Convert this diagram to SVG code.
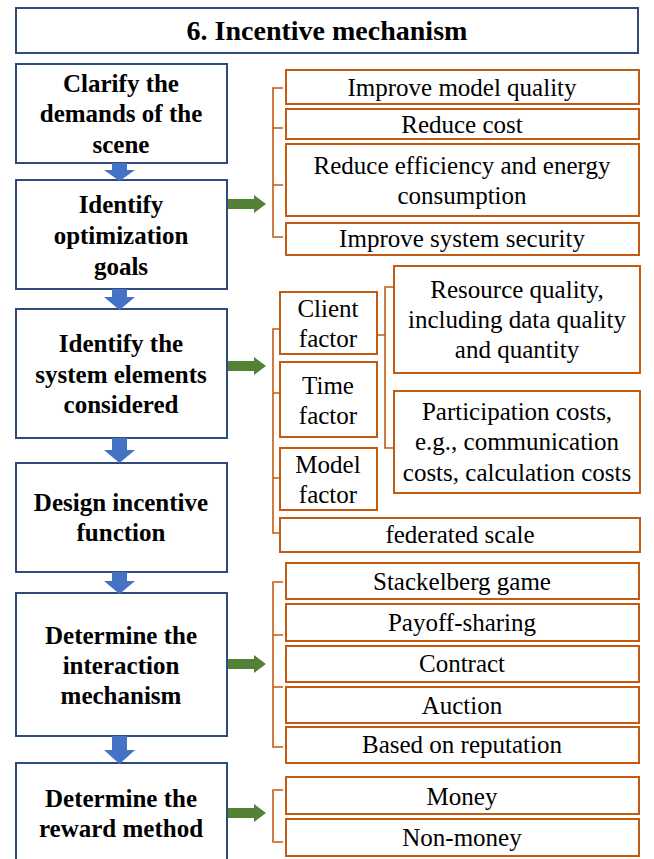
<svg xmlns="http://www.w3.org/2000/svg" width="654" height="859" viewBox="0 0 654 859">
<rect x="0" y="0" width="654" height="859" fill="#ffffff"/>
<g id="title">
<rect x="16" y="8" width="622" height="45" fill="#fff" stroke="#2F4B7C" stroke-width="2"/>
<text x="327" y="40" style="font-family:'Liberation Serif',serif !important;font-size:28px;font-weight:bold" text-anchor="middle" fill="#000">6. Incentive mechanism</text>
</g>
<g id="steps" fill="#ffffff" stroke="#2F4B7C" stroke-width="2">
<g id="step1">
<rect x="16" y="64" width="211" height="99"/>
<text x="121" y="92" style="font-family:'Liberation Serif',serif !important;font-size:25px;font-weight:bold" text-anchor="middle" fill="#000" stroke="none">Clarify the</text>
<text x="121" y="122" style="font-family:'Liberation Serif',serif !important;font-size:25px;font-weight:bold" text-anchor="middle" fill="#000" stroke="none">demands of the</text>
<text x="121" y="153" style="font-family:'Liberation Serif',serif !important;font-size:25px;font-weight:bold" text-anchor="middle" fill="#000" stroke="none">scene</text>
</g>
<g id="step2">
<rect x="16" y="180" width="211" height="109"/>
<text x="121" y="213" style="font-family:'Liberation Serif',serif !important;font-size:25px;font-weight:bold" text-anchor="middle" fill="#000" stroke="none">Identify</text>
<text x="121" y="244" style="font-family:'Liberation Serif',serif !important;font-size:25px;font-weight:bold" text-anchor="middle" fill="#000" stroke="none">optimization</text>
<text x="121" y="275" style="font-family:'Liberation Serif',serif !important;font-size:25px;font-weight:bold" text-anchor="middle" fill="#000" stroke="none">goals</text>
</g>
<g id="step3">
<rect x="16" y="309" width="211" height="129"/>
<text x="121" y="352" style="font-family:'Liberation Serif',serif !important;font-size:25px;font-weight:bold" text-anchor="middle" fill="#000" stroke="none">Identify the</text>
<text x="121" y="383" style="font-family:'Liberation Serif',serif !important;font-size:25px;font-weight:bold" text-anchor="middle" fill="#000" stroke="none">system elements</text>
<text x="121" y="413" style="font-family:'Liberation Serif',serif !important;font-size:25px;font-weight:bold" text-anchor="middle" fill="#000" stroke="none">considered</text>
</g>
<g id="step4">
<rect x="16" y="463" width="211" height="109"/>
<text x="121" y="511" style="font-family:'Liberation Serif',serif !important;font-size:25px;font-weight:bold" text-anchor="middle" fill="#000" stroke="none">Design incentive</text>
<text x="121" y="541" style="font-family:'Liberation Serif',serif !important;font-size:25px;font-weight:bold" text-anchor="middle" fill="#000" stroke="none">function</text>
</g>
<g id="step5">
<rect x="16" y="593" width="211" height="143"/>
<text x="121" y="644" style="font-family:'Liberation Serif',serif !important;font-size:25px;font-weight:bold" text-anchor="middle" fill="#000" stroke="none">Determine the</text>
<text x="121" y="674" style="font-family:'Liberation Serif',serif !important;font-size:25px;font-weight:bold" text-anchor="middle" fill="#000" stroke="none">interaction</text>
<text x="121" y="704" style="font-family:'Liberation Serif',serif !important;font-size:25px;font-weight:bold" text-anchor="middle" fill="#000" stroke="none">mechanism</text>
</g>
<g id="step6">
<rect x="16" y="763" width="211" height="110"/>
<text x="121" y="807" style="font-family:'Liberation Serif',serif !important;font-size:25px;font-weight:bold" text-anchor="middle" fill="#000" stroke="none">Determine the</text>
<text x="121" y="837" style="font-family:'Liberation Serif',serif !important;font-size:25px;font-weight:bold" text-anchor="middle" fill="#000" stroke="none">reward method</text>
</g>
</g>
<g id="options" fill="#ffffff" stroke="#C55A11" stroke-width="2">
<g id="goal-quality"><rect x="286" y="70" width="353" height="34"/><text x="462" y="96" style="font-family:'Liberation Serif',serif !important;font-size:25px" text-anchor="middle" fill="#000" stroke="none">Improve model quality</text></g>
<g id="goal-cost"><rect x="286" y="109" width="353" height="30"/><text x="462" y="133" style="font-family:'Liberation Serif',serif !important;font-size:25px" text-anchor="middle" fill="#000" stroke="none">Reduce cost</text></g>
<g id="goal-efficiency"><rect x="286" y="144" width="353" height="72"/><text x="462" y="174" style="font-family:'Liberation Serif',serif !important;font-size:25px" text-anchor="middle" fill="#000" stroke="none">Reduce efficiency and energy</text><text x="462" y="204" style="font-family:'Liberation Serif',serif !important;font-size:25px" text-anchor="middle" fill="#000" stroke="none">consumption</text></g>
<g id="goal-security"><rect x="286" y="223" width="353" height="32"/><text x="462" y="247" style="font-family:'Liberation Serif',serif !important;font-size:25px" text-anchor="middle" fill="#000" stroke="none">Improve system security</text></g>
<g id="client-factor"><rect x="280" y="292" width="97" height="62"/><text x="328" y="317" style="font-family:'Liberation Serif',serif !important;font-size:25px" text-anchor="middle" fill="#000" stroke="none">Client</text><text x="328" y="347" style="font-family:'Liberation Serif',serif !important;font-size:25px" text-anchor="middle" fill="#000" stroke="none">factor</text></g>
<g id="time-factor"><rect x="280" y="362" width="97" height="75"/><text x="328" y="394" style="font-family:'Liberation Serif',serif !important;font-size:25px" text-anchor="middle" fill="#000" stroke="none">Time</text><text x="328" y="424" style="font-family:'Liberation Serif',serif !important;font-size:25px" text-anchor="middle" fill="#000" stroke="none">factor</text></g>
<g id="model-factor"><rect x="280" y="448" width="97" height="62"/><text x="328" y="473" style="font-family:'Liberation Serif',serif !important;font-size:25px" text-anchor="middle" fill="#000" stroke="none">Model</text><text x="328" y="503" style="font-family:'Liberation Serif',serif !important;font-size:25px" text-anchor="middle" fill="#000" stroke="none">factor</text></g>
<g id="resource-quality"><rect x="394" y="266" width="246" height="107"/><text x="517" y="298" style="font-family:'Liberation Serif',serif !important;font-size:25px" text-anchor="middle" fill="#000" stroke="none">Resource quality,</text><text x="517" y="328" style="font-family:'Liberation Serif',serif !important;font-size:25px" text-anchor="middle" fill="#000" stroke="none">including data quality</text><text x="517" y="358" style="font-family:'Liberation Serif',serif !important;font-size:25px" text-anchor="middle" fill="#000" stroke="none">and quantity</text></g>
<g id="participation-costs"><rect x="394" y="391" width="246" height="102"/><text x="517" y="420" style="font-family:'Liberation Serif',serif !important;font-size:25px" text-anchor="middle" fill="#000" stroke="none">Participation costs,</text><text x="517" y="450" style="font-family:'Liberation Serif',serif !important;font-size:25px" text-anchor="middle" fill="#000" stroke="none">e.g., communication</text><text x="517" y="481" style="font-family:'Liberation Serif',serif !important;font-size:25px" text-anchor="middle" fill="#000" stroke="none">costs, calculation costs</text></g>
<g id="federated-scale"><rect x="280" y="518" width="360" height="34"/><text x="460" y="543" style="font-family:'Liberation Serif',serif !important;font-size:25px" text-anchor="middle" fill="#000" stroke="none">federated scale</text></g>
<g id="stackelberg"><rect x="286" y="563" width="353" height="36"/><text x="462" y="590" style="font-family:'Liberation Serif',serif !important;font-size:25px" text-anchor="middle" fill="#000" stroke="none">Stackelberg game</text></g>
<g id="payoff"><rect x="286" y="604" width="353" height="37"/><text x="462" y="631" style="font-family:'Liberation Serif',serif !important;font-size:25px" text-anchor="middle" fill="#000" stroke="none">Payoff-sharing</text></g>
<g id="contract"><rect x="286" y="646" width="353" height="36"/><text x="462" y="672" style="font-family:'Liberation Serif',serif !important;font-size:25px" text-anchor="middle" fill="#000" stroke="none">Contract</text></g>
<g id="auction"><rect x="286" y="687" width="353" height="36"/><text x="462" y="714" style="font-family:'Liberation Serif',serif !important;font-size:25px" text-anchor="middle" fill="#000" stroke="none">Auction</text></g>
<g id="reputation"><rect x="286" y="727" width="353" height="36"/><text x="462" y="753" style="font-family:'Liberation Serif',serif !important;font-size:25px" text-anchor="middle" fill="#000" stroke="none">Based on reputation</text></g>
<g id="money"><rect x="286" y="777" width="353" height="37"/><text x="462" y="805" style="font-family:'Liberation Serif',serif !important;font-size:25px" text-anchor="middle" fill="#000" stroke="none">Money</text></g>
<g id="non-money"><rect x="286" y="819" width="353" height="37"/><text x="462" y="846" style="font-family:'Liberation Serif',serif !important;font-size:25px" text-anchor="middle" fill="#000" stroke="none">Non-money</text></g>
</g>
<g id="connectors">
<g fill="#4472C4">
<polygon points="112,163 127,163 127,170 135,170 119.5,181 104,170 112,170"/>
<polygon points="112,289 127,289 127,297 135,297 119.5,310 104,297 112,297"/>
<polygon points="112,438 127,438 127,450 135,450 119.5,463 104,450 112,450"/>
<polygon points="112,572 127,572 127,581 135,581 119.5,594 104,581 112,581"/>
<polygon points="112,736 127,736 127,750 135,750 119.5,764 104,750 112,750"/>
</g>
<g fill="#538135">
<polygon points="228,199 254,199 254,195 266,204 254,213 254,209 228,209"/>
<polygon points="228,361 254,361 254,357 266,366 254,375 254,371 228,371"/>
<polygon points="228,659 254,659 254,655 266,664 254,673 254,669 228,669"/>
<polygon points="228,808 254,808 254,804 266,813 254,822 254,818 228,818"/>
</g>
<g fill="none" stroke="#C55A11" stroke-width="1.6">
<path d="M283,88 H273 V237 H283 M273,128 H283 M273,185 H283"/>
<path d="M280,329 H273 V533 H280 M273,393 H280 M273,478 H280"/>
<path d="M394,287 H385 V448 H394 M377,335 H385"/>
<path d="M283,582 H273 V747 H283 M273,635 H283 M273,687 H283"/>
<path d="M283,790 H273 V842 H283"/>
</g>
</g>
</svg>
